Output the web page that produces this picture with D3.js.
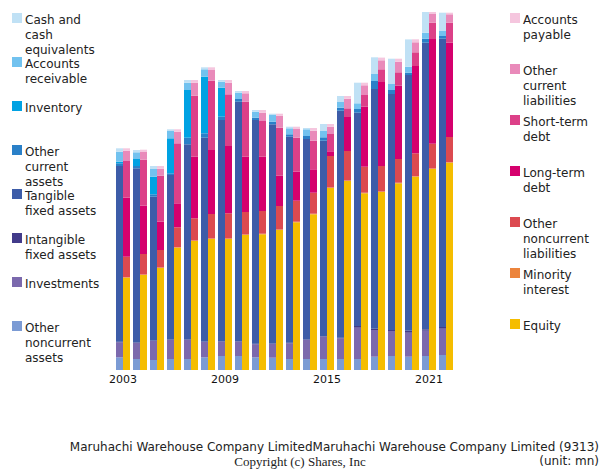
<!DOCTYPE html>
<html>
<head>
<meta charset="utf-8">
<script src="https://cdn.jsdelivr.net/npm/d3@7"></script>
<style>
  html, body { margin: 0; padding: 0; background: #fff; }
  svg { display: block; }
  text { font-family: "DejaVu Sans", sans-serif; }
</style>
</head>
<body>
<svg id="chart" width="600" height="470"></svg>
<script>
// ---- Data (unit: mn) ----
const years = [2003,2004,2005,2006,2007,2008,2009,2010,2011,2012,2013,2014,2015,2016,2017,2018,2019,2020,2021,2022];
const tickYears = [2003, 2009, 2015, 2021];

// Assets (bottom to top)
const otherNoncurrentAssets = [1270,1100,1000,1100,1100,1270,1400,1400,1270,1230,1100,1100,1100,1100,1100,1330,1400,1330,1400,1500];
const investments = [1500,1600,1900,1900,1900,1530,1430,1430,1300,1370,1570,1900,2230,2070,3130,2670,2500,2400,2530,2630];
const intangibleFixedAssets = [50,50,50,50,50,50,50,50,50,50,50,50,50,50,170,130,100,200,140,170];
const tangibleFixedAssets = [17580,17420,14380,16450,19520,20380,22120,23950,22380,21920,20610,20050,19550,22710,21330,23970,23600,25570,28660,28830];
const otherCurrentAssets = [270,230,240,170,660,440,330,270,230,260,240,300,340,300,370,800,400,230,400,270];
const inventory = [160,700,1760,3500,4770,5660,2900,0,0,0,0,0,0,0,0,0,0,0,0,0];
const accountsReceivable = [1000,670,770,730,730,740,600,630,600,670,600,670,630,570,570,700,600,600,600,500];
const cashAndEquivalents = [340,230,300,170,270,200,170,170,170,130,160,130,700,600,2060,1670,2530,2730,2070,1830];

// Liabilities & equity (bottom to top)
const equity = [9230,9500,10200,12230,12900,13100,13100,13500,13570,14000,14770,15570,18200,18900,17670,17800,18670,19330,20100,20730];
const minorityInterest = [60,60,60,60,60,60,60,60,60,60,60,60,60,60,60,60,60,60,60,60];
const otherNoncurrentLiabilities = [2040,2040,1740,1980,2210,2440,2510,2240,2270,2340,2100,2100,3140,2940,2600,2540,2370,2280,2470,2510];
const longTermDebt = [5900,4830,2830,2400,6160,6400,6730,5530,5430,3030,2900,2340,470,3400,6000,8400,7330,8730,10470,9430];
const shortTermDebt = [3670,4600,4600,6000,6100,6930,5170,5500,3570,4800,3400,2860,1730,870,1170,1270,1340,1370,1630,2000];
const otherCurrentLiabilities = [1030,770,700,1160,1300,1070,1160,840,830,1200,870,1000,730,960,970,900,1060,1000,870,840];
const accountsPayable = [240,230,270,240,270,270,270,230,270,200,230,270,270,270,260,270,300,300,200,160];

const assetSeries = [
  { key: "onca", label: ["Other","noncurrent","assets"], color: "#7b9bd4", values: otherNoncurrentAssets },
  { key: "inv",  label: ["Investments"], color: "#7b69ad", values: investments },
  { key: "intg", label: ["Intangible","fixed assets"], color: "#423b8a", values: intangibleFixedAssets },
  { key: "tang", label: ["Tangible","fixed assets"], color: "#3d5ca8", values: tangibleFixedAssets },
  { key: "oca",  label: ["Other","current","assets"], color: "#2a80c8", values: otherCurrentAssets },
  { key: "invt", label: ["Inventory"], color: "#00a2e3", values: inventory },
  { key: "ar",   label: ["Accounts","receivable"], color: "#72c2ef", values: accountsReceivable },
  { key: "cash", label: ["Cash and","cash","equivalents"], color: "#c0e1f5", values: cashAndEquivalents }
];
const liabSeries = [
  { key: "eq",   label: ["Equity"], color: "#f5bd00", values: equity },
  { key: "mi",   label: ["Minority","interest"], color: "#ec843c", values: minorityInterest },
  { key: "oncl", label: ["Other","noncurrent","liabilities"], color: "#dc4a50", values: otherNoncurrentLiabilities },
  { key: "ltd",  label: ["Long-term","debt"], color: "#d5006d", values: longTermDebt },
  { key: "std",  label: ["Short-term","debt"], color: "#dc4088", values: shortTermDebt },
  { key: "ocl",  label: ["Other","current","liabilities"], color: "#e98aba", values: otherCurrentLiabilities },
  { key: "ap",   label: ["Accounts","payable"], color: "#f5c6de", values: accountsPayable }
];

// ---- Drawing ----
const svg = d3.select("#chart");

const x = d3.scaleBand().domain(years).range([116, 453]).paddingInner(3/17).paddingOuter(0);
const side = d3.scaleBand().domain(["a","l"]).range([0, x.bandwidth()]);
const y = d3.scaleLinear().domain([0, 35800]).range([370, 12]);

function drawSide(series, sideKey) {
  const rows = years.map((yr, i) => {
    const r = { year: yr };
    series.forEach(s => r[s.key] = s.values[i]);
    return r;
  });
  const stack = d3.stack().keys(series.map(s => s.key))(rows);
  const g = svg.append("g");
  stack.forEach((layer, li) => {
    g.append("g").attr("fill", series[li].color)
      .selectAll("rect").data(layer).join("rect")
      .attr("x", d => x(d.data.year) + side(sideKey))
      .attr("width", side.bandwidth())
      .attr("y", d => y(d[1]))
      .attr("height", d => Math.max(0, y(d[0]) - y(d[1])));
  });
}
drawSide(assetSeries, "a");
drawSide(liabSeries, "l");

// x axis labels
const xAxis = d3.axisBottom(x).tickValues(tickYears).tickSize(0).tickPadding(4);
const ax = svg.append("g").attr("transform", "translate(0,371)").call(xAxis);
ax.select(".domain").remove();
ax.selectAll("text").attr("font-size", 11).attr("font-family", "DejaVu Sans, sans-serif").attr("fill", "#111");

// legends
function legend(series, x0, y0, step) {
  const g = svg.append("g");
  series.forEach((s, i) => {
    const top = y0 + i * step;
    g.append("rect").attr("x", x0).attr("y", top).attr("width", 10).attr("height", 10).attr("fill", s.color);
    const t = g.append("text").attr("x", x0 + 13).attr("y", top + 10.5)
      .attr("font-size", 12).attr("fill", "#222");
    s.label.forEach((ln, j) => {
      t.append("tspan").attr("x", x0 + 13).attr("dy", j === 0 ? 0 : 15).text(ln);
    });
  });
}
legend(assetSeries.slice().reverse(), 12, 13, 44);
legend(liabSeries.slice().reverse(), 510, 13, 51);

// footer
svg.append("text").attr("x", 599).attr("y", 450.5).attr("text-anchor", "end")
  .attr("font-size", 12).attr("fill", "#222")
  .text("Maruhachi Warehouse Company LimitedMaruhachi Warehouse Company Limited (9313)");
svg.append("text").attr("x", 300).attr("y", 465.5).attr("text-anchor", "middle")
  .attr("font-size", 13).attr("fill", "#222").style("font-family", "'Liberation Serif', serif")
  .text("Copyright (c) Shares, Inc");
svg.append("text").attr("x", 599).attr("y", 465).attr("text-anchor", "end")
  .attr("font-size", 12).attr("fill", "#222")
  .text("(unit: mn)");
</script>
</body>
</html>
